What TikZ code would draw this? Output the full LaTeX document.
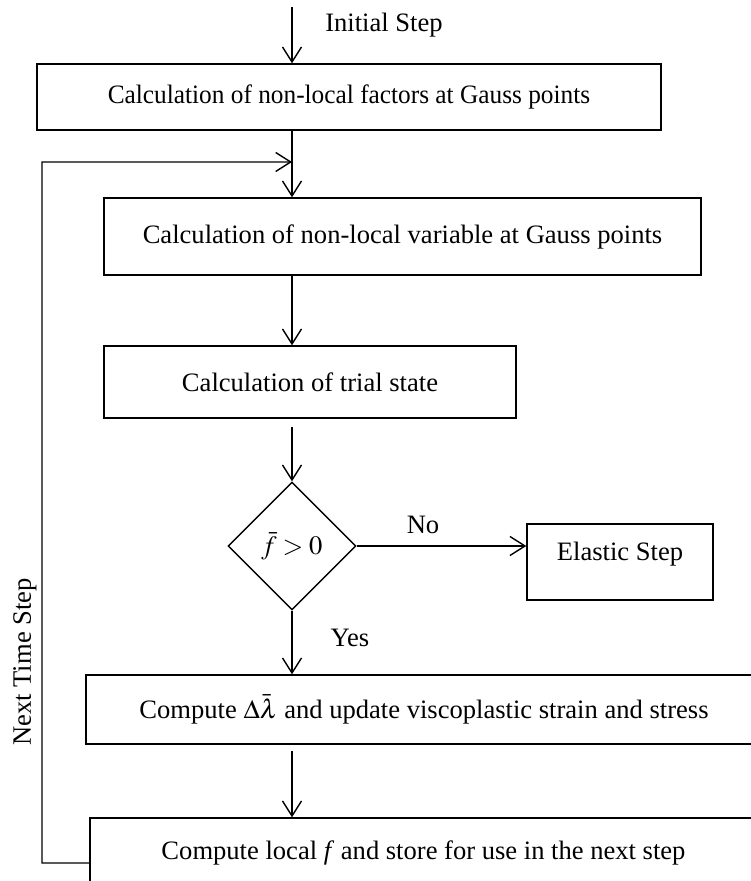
\documentclass[tikz,border=0pt]{standalone}
\usepackage{mathptmx}
\usepackage{fontspec}
\setmainfont{Liberation Serif}
\newfontfamily\narrowserif{Liberation Serif}[FakeStretch=0.953]
\usetikzlibrary{shapes.geometric,arrows.meta}

\begin{document}
\begin{tikzpicture}[
  every node/.style={font=\fontsize{18.9}{22}\selectfont},
  box/.style={draw,line width=1pt,inner sep=0pt},
  decision/.style={draw,diamond,line width=1pt,inner sep=0pt,minimum width=3.2cm,minimum height=3.2cm},
  flow/.style={line width=1pt,-{Straight Barb[length=0.375cm,width=0.475cm]}}]
\clip (0,0) rectangle (18.775,22.025);
% boxes of the time step
\node[box,minimum width=15.6cm,minimum height=1.65cm] (factors) at (8.725,19.6) {\narrowserif Calculation of non-local factors at Gauss points};
\node[box,minimum width=14.925cm,minimum height=1.925cm] (nonlocal) at (10.0625,16.1125) {Calculation of non-local variable at Gauss points};
\node[box,minimum width=10.3cm,minimum height=1.8cm] (trial) at (7.75,12.475) {Calculation of trial state};
\node[decision] (dia) at (7.3,8.375) {$\bar{f}>0$};
\node[box,minimum width=4.65cm,minimum height=1.9cm,text height=0.925cm,text depth=0.975cm] (elastic) at (15.5,7.975) {Elastic Step};
\node[box,minimum width=16.9cm,minimum height=1.725cm] (update) at (10.6,4.2875) {Compute $\Delta\bar{\lambda}$ and update viscoplastic strain and stress};
\node[box,minimum width=16.675cm,minimum height=1.75cm] (store) at (10.5875,0.7) {Compute local \textit{f} and store for use in the next step};
% labels
\node (initlabel) at (9.6,21.4) {Initial Step};
\node (nolabel) at (10.575,8.9) {No};
\node (yeslabel) at (8.75,6.075) {Yes};
\node[rotate=90] (nextlabel) at (0.625,5.475) {Next Time Step};
% free ends of the connectors
\coordinate (start) at (7.3,21.85);
\coordinate (merge) at (7.3,17.975);
\coordinate (corner) at (1.05,0.45);
% connectors
\draw[flow] (start) -- (factors.north -| start);
\draw[flow] (factors.south -| dia) -- (nonlocal.north -| dia);
\draw[flow] (nonlocal.south -| dia) -- (trial.north -| dia);
\draw[flow,shorten <=0.2cm] (trial.south -| dia) -- (dia.north);
\draw[flow] (dia.east) -- (dia.east -| elastic.west);
\draw[flow] (dia.south) -- (update.north -| dia);
\draw[flow,shorten <=0.15cm] (update.south -| dia) -- (store.north -| dia);
\draw[flow] ([yshift=-0.25cm]store.west) -- (corner) |- (merge);
\end{tikzpicture}
\end{document}
